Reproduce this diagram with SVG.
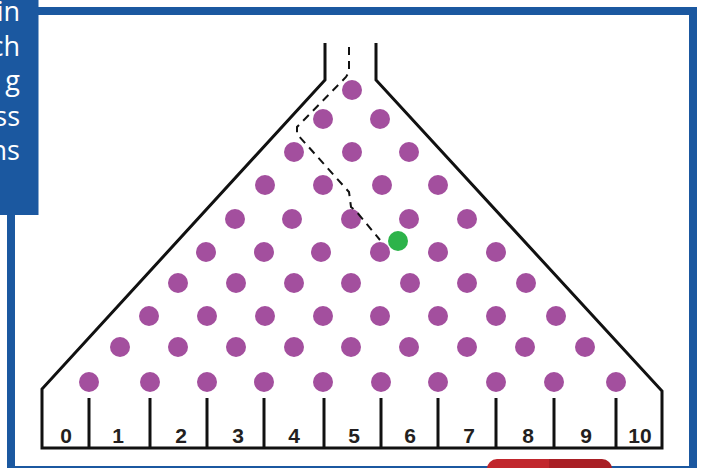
<svg xmlns="http://www.w3.org/2000/svg" width="701" height="468" viewBox="0 0 701 468">
<style>
.peg{fill:#a34f9e}
.ln{fill:none;stroke:#111;stroke-width:3}
.lbl{font-family:"Liberation Sans",Arial,sans-serif;font-weight:bold;font-size:21px;fill:#231f20;text-anchor:middle}
.side{font-family:"Open Sans","Liberation Sans",sans-serif;font-size:27px;fill:#fff;text-anchor:end}
</style>
<defs>
<clipPath id="btnclip"><rect x="487" y="459" width="125" height="30" rx="10"/></clipPath>
</defs>
<rect width="701" height="468" fill="#fff"/>
<rect id="frame" x="11" y="11" width="682" height="459" fill="none" stroke="#1b58a0" stroke-width="8"/>
<g id="sidebox">
<rect x="0" y="0" width="38.5" height="215" fill="#1b58a0"/>
<text class="side" x="20" y="21">in</text>
<text class="side" x="20" y="56">ch</text>
<text class="side" x="20" y="90">g</text>
<text class="side" x="20" y="126">ss</text>
<text class="side" x="20" y="160">ns</text>
</g>
<g id="board">
<path class="ln" d="M325,43 V80 L42,389 V448 H662 V391 L376,80 V43"/>
<g class="ln">
<line x1="89" y1="398" x2="89" y2="448"/>
<line x1="150" y1="398" x2="150" y2="448"/>
<line x1="207" y1="398" x2="207" y2="448"/>
<line x1="264" y1="398" x2="264" y2="448"/>
<line x1="324" y1="398" x2="324" y2="448"/>
<line x1="381" y1="398" x2="381" y2="448"/>
<line x1="438" y1="398" x2="438" y2="448"/>
<line x1="496" y1="398" x2="496" y2="448"/>
<line x1="554" y1="398" x2="554" y2="448"/>
<line x1="616" y1="398" x2="616" y2="448"/>
</g>
</g>
<g id="labels">
<text class="lbl" x="66" y="443">0</text>
<text class="lbl" x="118" y="443">1</text>
<text class="lbl" x="181" y="443">2</text>
<text class="lbl" x="238" y="443">3</text>
<text class="lbl" x="294" y="443">4</text>
<text class="lbl" x="354" y="443">5</text>
<text class="lbl" x="410" y="443">6</text>
<text class="lbl" x="469" y="443">7</text>
<text class="lbl" x="528" y="443">8</text>
<text class="lbl" x="586" y="443">9</text>
<text class="lbl" x="640" y="443">10</text>
</g>
<g id="pegs" class="peg">
<circle cx="352" cy="90" r="10"/>
<circle cx="323" cy="119" r="10"/><circle cx="380" cy="119" r="10"/>
<circle cx="294" cy="152" r="10"/><circle cx="352" cy="152" r="10"/><circle cx="409" cy="152" r="10"/>
<circle cx="265" cy="185" r="10"/><circle cx="323" cy="185" r="10"/><circle cx="382" cy="185" r="10"/><circle cx="438" cy="185" r="10"/>
<circle cx="235" cy="219" r="10"/><circle cx="292" cy="219" r="10"/><circle cx="351" cy="219" r="10"/><circle cx="409" cy="219" r="10"/><circle cx="467" cy="219" r="10"/>
<circle cx="206" cy="252" r="10"/><circle cx="264" cy="252" r="10"/><circle cx="321" cy="252" r="10"/><circle cx="380" cy="252" r="10"/><circle cx="438" cy="252" r="10"/><circle cx="496" cy="252" r="10"/>
<circle cx="178" cy="283" r="10"/><circle cx="236" cy="283" r="10"/><circle cx="294" cy="283" r="10"/><circle cx="351" cy="283" r="10"/><circle cx="410" cy="283" r="10"/><circle cx="467" cy="283" r="10"/><circle cx="526" cy="283" r="10"/>
<circle cx="149" cy="316" r="10"/><circle cx="207" cy="316" r="10"/><circle cx="265" cy="316" r="10"/><circle cx="323" cy="316" r="10"/><circle cx="380" cy="316" r="10"/><circle cx="438" cy="316" r="10"/><circle cx="496" cy="316" r="10"/><circle cx="556" cy="316" r="10"/>
<circle cx="120" cy="347" r="10"/><circle cx="178" cy="347" r="10"/><circle cx="236" cy="347" r="10"/><circle cx="294" cy="347" r="10"/><circle cx="351" cy="347" r="10"/><circle cx="409" cy="347" r="10"/><circle cx="467" cy="347" r="10"/><circle cx="525" cy="347" r="10"/><circle cx="585" cy="347" r="10"/>
<circle cx="89" cy="382" r="10"/><circle cx="150" cy="382" r="10"/><circle cx="207" cy="382" r="10"/><circle cx="264" cy="382" r="10"/><circle cx="323" cy="382" r="10"/><circle cx="381" cy="382" r="10"/><circle cx="438" cy="382" r="10"/><circle cx="496" cy="382" r="10"/><circle cx="554" cy="382" r="10"/><circle cx="616" cy="382" r="10"/>
</g>
<g id="connectors">
<path d="M349,47 V72 L346,77 L297,127 V134 L349,192 L351,207 L356,211 L380,240" fill="none" stroke="#111" stroke-width="2" stroke-dasharray="8,6"/>
</g>
<g id="ball"><circle cx="398" cy="241" r="10" fill="#2db34a"/></g>
<g id="button" clip-path="url(#btnclip)">
<rect x="487" y="459" width="62" height="30" fill="#c1272d"/>
<rect x="549" y="459" width="63" height="30" fill="#a91f25"/>
</g>
</svg>
